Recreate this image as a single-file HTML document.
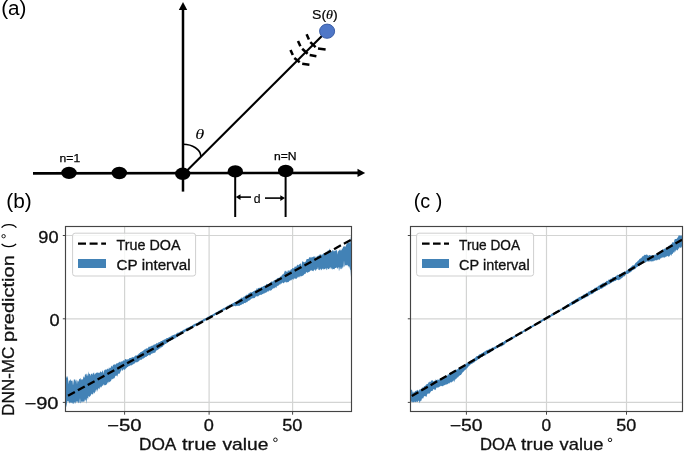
<!DOCTYPE html>
<html><head><meta charset="utf-8"><title>figure</title>
<style>html,body{margin:0;padding:0;background:#fff;}svg{display:block;} svg{will-change:transform;}</style>
</head><body>
<svg width="685" height="453" viewBox="0 0 685 453" font-family="Liberation Sans, sans-serif">
<rect width="685" height="453" fill="#fff"/>
<text x="1.2" y="14.6" font-family="Liberation Sans, sans-serif" font-size="20" fill="#000" text-anchor="start" textLength="25.3" lengthAdjust="spacingAndGlyphs" >(a)</text>
<line x1="33" y1="173.4" x2="359" y2="172.9" stroke="#000" stroke-width="2.6"/>
<polygon points="357.5,168.8 365.2,172.9 357.5,177.0" fill="#000"/>
<line x1="183" y1="191.6" x2="183" y2="9" stroke="#000" stroke-width="2.5"/>
<polygon points="178.8,10 183,2 187.2,10" fill="#000"/>
<line x1="235.2" y1="175" x2="235.2" y2="217" stroke="#000" stroke-width="2"/>
<line x1="285.6" y1="175" x2="285.6" y2="217" stroke="#000" stroke-width="2"/>
<line x1="238" y1="197.1" x2="251" y2="197.1" stroke="#000" stroke-width="1.6"/>
<polygon points="235.8,197.1 240.5,194.3 240.5,199.9" fill="#000"/>
<line x1="265" y1="198.1" x2="282" y2="198.1" stroke="#000" stroke-width="1.6"/>
<polygon points="285,198.1 280.3,195.3 280.3,200.9" fill="#000"/>
<text x="253.8" y="202.5" font-family="Liberation Sans, sans-serif" font-size="12.4" fill="#000" text-anchor="start" textLength="6.8" lengthAdjust="spacingAndGlyphs" stroke="#000" stroke-width="0.15" >d</text>
<line x1="183.6" y1="174.0" x2="327.9" y2="29.9" stroke="#000" stroke-width="2.05"/>
<path d="M 183 144.3 A 18 12 0 0 1 200.8 156" fill="none" stroke="#000" stroke-width="1.6"/>
<text x="195.2" y="139.3" font-family="Liberation Serif, sans-serif" font-size="14.8" fill="#000" text-anchor="start" textLength="9.0" lengthAdjust="spacingAndGlyphs" font-style="italic">θ</text>
<ellipse cx="69.0" cy="172.9" rx="7.7" ry="6.2" fill="#000"/>
<ellipse cx="119.3" cy="173.0" rx="7.7" ry="6.2" fill="#000"/>
<ellipse cx="182.7" cy="173.8" rx="7.7" ry="6.2" fill="#000"/>
<ellipse cx="235.3" cy="171.4" rx="7.7" ry="6.2" fill="#000"/>
<ellipse cx="285.7" cy="171.0" rx="7.7" ry="6.2" fill="#000"/>
<text x="59.6" y="162.0" font-family="Liberation Sans, sans-serif" font-size="11.2" fill="#000" text-anchor="start" textLength="20.6" lengthAdjust="spacingAndGlyphs" stroke="#000" stroke-width="0.25" >n=1</text>
<text x="274.0" y="160.2" font-family="Liberation Sans, sans-serif" font-size="11.2" fill="#000" text-anchor="start" textLength="22.6" lengthAdjust="spacingAndGlyphs" stroke="#000" stroke-width="0.25" >n=N</text>
<line x1="306.6" y1="34.2" x2="308.9" y2="39.5" stroke="#000" stroke-width="2.55"/>
<line x1="310.3" y1="42.1" x2="315.6" y2="47.1" stroke="#000" stroke-width="2.55"/>
<line x1="318.0" y1="48.5" x2="325.6" y2="49.4" stroke="#000" stroke-width="2.55"/>
<line x1="298.0" y1="41.0" x2="300.4" y2="46.3" stroke="#000" stroke-width="2.55"/>
<line x1="302.2" y1="48.7" x2="307.6" y2="53.7" stroke="#000" stroke-width="2.55"/>
<line x1="309.7" y1="55.0" x2="316.4" y2="56.2" stroke="#000" stroke-width="2.55"/>
<line x1="290.5" y1="50.0" x2="292.8" y2="55.0" stroke="#000" stroke-width="2.55"/>
<line x1="294.3" y1="57.9" x2="299.7" y2="62.3" stroke="#000" stroke-width="2.55"/>
<line x1="302.2" y1="63.8" x2="309.4" y2="64.7" stroke="#000" stroke-width="2.55"/>
<ellipse cx="327.1" cy="31.2" rx="7.5" ry="7.1" fill="#4F77C7" stroke="#3A5DA6" stroke-width="1.0"/>
<text x="312.0" y="18.8" font-family="Liberation Sans, sans-serif" font-size="13" fill="#000" text-anchor="start" textLength="25.8" lengthAdjust="spacingAndGlyphs" stroke="#000" stroke-width="0.2" >S(<tspan font-family="Liberation Serif, serif" font-style="italic">θ</tspan>)</text>
<text x="6.3" y="208.0" font-family="Liberation Sans, sans-serif" font-size="19.5" fill="#000" text-anchor="start" textLength="25.5" lengthAdjust="spacingAndGlyphs" >(b)</text>
<line x1="124.6" y1="226.6" x2="124.6" y2="411.4" stroke="#d3d4d3" stroke-width="1.2"/>
<line x1="209.1" y1="226.6" x2="209.1" y2="411.4" stroke="#d3d4d3" stroke-width="1.2"/>
<line x1="292.6" y1="226.6" x2="292.6" y2="411.4" stroke="#d3d4d3" stroke-width="1.2"/>
<line x1="66" y1="235.5" x2="351.4" y2="235.5" stroke="#d3d4d3" stroke-width="1.2"/>
<line x1="66" y1="318.8" x2="351.4" y2="318.8" stroke="#d3d4d3" stroke-width="1.2"/>
<line x1="66" y1="402.4" x2="351.4" y2="402.4" stroke="#d3d4d3" stroke-width="1.2"/>
<path d="M 66.0 375.8 L 66.5 378.2 L 67.0 376.1 L 67.5 376.7 L 68.0 378.5 L 68.5 384.2 L 69.0 380.2 L 69.5 381.0 L 70.0 380.0 L 70.5 379.0 L 71.0 381.2 L 71.5 380.5 L 72.0 380.7 L 72.5 380.4 L 73.0 385.5 L 73.5 381.7 L 74.0 379.0 L 74.5 380.1 L 75.0 379.1 L 75.5 381.8 L 76.0 379.3 L 76.5 380.4 L 77.0 384.2 L 77.5 379.9 L 78.0 381.4 L 78.5 381.6 L 79.0 379.7 L 79.5 378.7 L 80.0 379.1 L 80.5 377.7 L 81.0 380.6 L 81.5 379.1 L 82.0 379.5 L 82.5 379.5 L 83.0 378.9 L 83.5 375.9 L 84.0 377.5 L 84.5 377.5 L 85.0 374.2 L 85.5 374.7 L 86.0 373.4 L 86.5 374.1 L 87.0 376.4 L 87.5 373.6 L 88.0 376.5 L 88.5 371.2 L 89.0 374.1 L 89.5 373.7 L 90.0 373.8 L 90.5 376.1 L 91.0 373.9 L 91.5 373.9 L 92.0 373.0 L 92.5 375.2 L 93.0 373.0 L 93.5 373.6 L 94.0 371.9 L 94.5 374.8 L 95.0 374.3 L 95.5 373.6 L 96.0 372.7 L 96.5 372.8 L 97.0 372.8 L 97.5 372.7 L 98.0 372.0 L 98.5 373.0 L 99.0 373.1 L 99.5 372.8 L 100.0 372.3 L 100.5 370.9 L 101.0 372.3 L 101.5 372.6 L 102.0 371.8 L 102.5 371.0 L 103.0 370.0 L 103.5 374.1 L 104.0 371.3 L 104.5 369.7 L 105.0 370.1 L 105.5 369.0 L 106.0 370.3 L 106.5 369.5 L 107.0 369.1 L 107.5 368.4 L 108.0 368.9 L 108.5 369.6 L 109.0 367.1 L 109.5 368.4 L 110.0 367.9 L 110.5 367.9 L 111.0 366.5 L 111.5 365.5 L 112.0 366.7 L 112.5 366.5 L 113.0 364.9 L 113.5 364.8 L 114.0 364.6 L 114.5 364.3 L 115.0 364.8 L 115.5 364.6 L 116.0 364.3 L 116.5 363.5 L 117.0 362.8 L 117.5 363.5 L 118.0 363.3 L 118.5 362.6 L 119.0 362.5 L 119.5 361.5 L 120.0 362.2 L 120.5 362.5 L 121.0 360.9 L 121.5 361.8 L 122.0 361.4 L 122.5 361.5 L 123.0 360.4 L 123.5 360.3 L 124.0 360.7 L 124.5 360.8 L 125.0 358.9 L 125.5 359.3 L 126.0 359.0 L 126.5 359.9 L 127.0 359.1 L 127.5 359.4 L 128.0 359.5 L 128.5 359.3 L 129.0 358.7 L 129.5 357.9 L 130.0 358.1 L 130.5 358.1 L 131.0 357.7 L 131.5 357.6 L 132.0 357.8 L 132.5 356.7 L 133.0 357.3 L 133.5 357.3 L 134.0 357.1 L 134.5 356.5 L 135.0 355.8 L 135.5 355.5 L 136.0 355.6 L 136.5 355.6 L 137.0 355.6 L 137.5 354.9 L 138.0 354.6 L 138.5 354.3 L 139.0 353.3 L 139.5 353.2 L 140.0 353.0 L 140.5 352.1 L 141.0 351.9 L 141.5 351.8 L 142.0 351.4 L 142.5 351.2 L 143.0 350.7 L 143.5 350.4 L 144.0 349.7 L 144.5 349.8 L 145.0 349.1 L 145.5 349.4 L 146.0 348.2 L 146.5 348.2 L 147.0 349.0 L 147.5 348.3 L 148.0 348.1 L 148.5 346.9 L 149.0 346.6 L 149.5 346.8 L 150.0 346.9 L 150.5 346.3 L 151.0 346.3 L 151.5 345.6 L 152.0 346.2 L 152.5 345.3 L 153.0 345.8 L 153.5 344.8 L 154.0 344.6 L 154.5 344.5 L 155.0 344.6 L 155.5 344.2 L 156.0 343.8 L 156.5 343.2 L 157.0 342.8 L 157.5 343.7 L 158.0 342.7 L 158.5 342.2 L 159.0 342.5 L 159.5 342.1 L 160.0 342.0 L 160.5 341.6 L 161.0 341.0 L 161.5 341.1 L 162.0 340.9 L 162.5 340.3 L 163.0 340.5 L 163.5 340.1 L 164.0 339.5 L 164.5 339.8 L 165.0 338.8 L 165.5 339.5 L 166.0 338.5 L 166.5 338.3 L 167.0 338.1 L 167.5 337.9 L 168.0 337.9 L 168.5 337.6 L 169.0 337.2 L 169.5 337.1 L 170.0 336.8 L 170.5 336.5 L 171.0 336.4 L 171.5 335.7 L 172.0 335.6 L 172.5 335.5 L 173.0 335.1 L 173.5 335.1 L 174.0 334.8 L 174.5 334.5 L 175.0 334.4 L 175.5 334.4 L 176.0 334.0 L 176.5 333.4 L 177.0 333.0 L 177.5 332.8 L 178.0 332.6 L 178.5 332.8 L 179.0 332.5 L 179.5 332.2 L 180.0 331.7 L 180.5 331.5 L 181.0 331.3 L 181.5 331.0 L 182.0 331.0 L 182.5 330.5 L 183.0 330.2 L 183.5 329.8 L 184.0 329.7 L 184.5 329.6 L 185.0 329.1 L 185.5 328.8 L 186.0 328.7 L 186.5 328.0 L 187.0 327.8 L 187.5 327.7 L 188.0 327.8 L 188.5 327.3 L 189.0 327.2 L 189.5 326.9 L 190.0 326.5 L 190.5 325.9 L 191.0 326.2 L 191.5 325.9 L 192.0 325.5 L 192.5 325.3 L 193.0 324.8 L 193.5 324.4 L 194.0 324.3 L 194.5 324.1 L 195.0 323.5 L 195.5 323.8 L 196.0 323.3 L 196.5 322.9 L 197.0 323.0 L 197.5 322.7 L 198.0 322.4 L 198.5 322.0 L 199.0 321.5 L 199.5 321.4 L 200.0 321.0 L 200.5 320.8 L 201.0 320.7 L 201.5 320.2 L 202.0 320.0 L 202.5 319.9 L 203.0 319.4 L 203.5 318.9 L 204.0 318.7 L 204.5 318.7 L 205.0 318.2 L 205.5 318.4 L 206.0 318.1 L 206.5 317.5 L 207.0 317.4 L 207.5 317.0 L 208.0 316.4 L 208.5 316.7 L 209.0 316.3 L 209.5 315.7 L 210.0 315.9 L 210.5 315.1 L 211.0 315.1 L 211.5 315.0 L 212.0 314.7 L 212.5 314.4 L 213.0 314.0 L 213.5 313.9 L 214.0 313.5 L 214.5 313.2 L 215.0 312.9 L 215.5 312.5 L 216.0 312.6 L 216.5 311.9 L 217.0 311.9 L 217.5 311.7 L 218.0 311.3 L 218.5 311.0 L 219.0 310.5 L 219.5 310.4 L 220.0 310.4 L 220.5 309.7 L 221.0 309.8 L 221.5 309.4 L 222.0 309.0 L 222.5 308.7 L 223.0 308.4 L 223.5 308.0 L 224.0 307.8 L 224.5 307.9 L 225.0 307.3 L 225.5 307.4 L 226.0 306.9 L 226.5 306.4 L 227.0 306.1 L 227.5 305.8 L 228.0 305.7 L 228.5 305.6 L 229.0 305.3 L 229.5 304.8 L 230.0 304.6 L 230.5 304.8 L 231.0 304.4 L 231.5 304.0 L 232.0 303.6 L 232.5 303.5 L 233.0 303.0 L 233.5 303.0 L 234.0 302.5 L 234.5 301.9 L 235.0 302.2 L 235.5 301.9 L 236.0 301.4 L 236.5 301.4 L 237.0 300.7 L 237.5 300.8 L 238.0 300.3 L 238.5 300.2 L 239.0 299.3 L 239.5 299.3 L 240.0 298.9 L 240.5 298.2 L 241.0 298.7 L 241.5 297.0 L 242.0 298.3 L 242.5 297.4 L 243.0 297.7 L 243.5 296.7 L 244.0 296.4 L 244.5 296.6 L 245.0 296.3 L 245.5 295.5 L 246.0 295.2 L 246.5 294.5 L 247.0 295.1 L 247.5 295.0 L 248.0 294.1 L 248.5 293.5 L 249.0 293.4 L 249.5 292.9 L 250.0 292.4 L 250.5 292.3 L 251.0 292.6 L 251.5 292.4 L 252.0 291.9 L 252.5 292.1 L 253.0 291.6 L 253.5 291.0 L 254.0 291.4 L 254.5 291.1 L 255.0 289.7 L 255.5 290.6 L 256.0 290.3 L 256.5 289.1 L 257.0 287.8 L 257.5 289.7 L 258.0 287.9 L 258.5 288.0 L 259.0 287.7 L 259.5 288.1 L 260.0 287.5 L 260.5 288.2 L 261.0 286.8 L 261.5 287.0 L 262.0 286.8 L 262.5 287.1 L 263.0 286.3 L 263.5 286.0 L 264.0 285.9 L 264.5 285.3 L 265.0 285.9 L 265.5 285.7 L 266.0 284.8 L 266.5 283.9 L 267.0 283.7 L 267.5 284.6 L 268.0 284.5 L 268.5 284.2 L 269.0 283.6 L 269.5 283.2 L 270.0 282.9 L 270.5 282.2 L 271.0 282.5 L 271.5 281.6 L 272.0 281.1 L 272.5 281.7 L 273.0 281.7 L 273.5 281.0 L 274.0 279.9 L 274.5 280.3 L 275.0 280.7 L 275.5 279.2 L 276.0 280.0 L 276.5 279.4 L 277.0 278.3 L 277.5 278.2 L 278.0 277.8 L 278.5 277.9 L 279.0 277.8 L 279.5 277.9 L 280.0 276.6 L 280.5 276.5 L 281.0 276.7 L 281.5 275.6 L 282.0 275.4 L 282.5 274.3 L 283.0 274.4 L 283.5 274.0 L 284.0 273.2 L 284.5 271.7 L 285.0 270.6 L 285.5 271.4 L 286.0 270.5 L 286.5 271.8 L 287.0 271.9 L 287.5 271.7 L 288.0 269.8 L 288.5 270.5 L 289.0 271.5 L 289.5 270.1 L 290.0 271.1 L 290.5 270.0 L 291.0 269.0 L 291.5 269.5 L 292.0 268.7 L 292.5 267.9 L 293.0 268.0 L 293.5 268.2 L 294.0 268.4 L 294.5 266.9 L 295.0 266.2 L 295.5 266.9 L 296.0 266.3 L 296.5 266.8 L 297.0 265.0 L 297.5 264.5 L 298.0 265.4 L 298.5 265.3 L 299.0 264.5 L 299.5 264.3 L 300.0 264.1 L 300.5 263.4 L 301.0 263.3 L 301.5 267.1 L 302.0 262.6 L 302.5 260.9 L 303.0 261.7 L 303.5 261.8 L 304.0 262.4 L 304.5 262.2 L 305.0 262.1 L 305.5 261.8 L 306.0 260.9 L 306.5 259.2 L 307.0 258.9 L 307.5 259.1 L 308.0 259.1 L 308.5 258.9 L 309.0 257.9 L 309.5 257.2 L 310.0 257.0 L 310.5 258.1 L 311.0 256.6 L 311.5 258.0 L 312.0 256.8 L 312.5 257.3 L 313.0 257.3 L 313.5 256.5 L 314.0 256.4 L 314.5 256.3 L 315.0 257.8 L 315.5 255.9 L 316.0 260.2 L 316.5 257.0 L 317.0 255.9 L 317.5 256.3 L 318.0 255.4 L 318.5 255.4 L 319.0 256.0 L 319.5 254.6 L 320.0 254.6 L 320.5 253.9 L 321.0 255.7 L 321.5 254.8 L 322.0 254.2 L 322.5 254.8 L 323.0 254.1 L 323.5 253.8 L 324.0 252.7 L 324.5 254.3 L 325.0 252.8 L 325.5 253.1 L 326.0 251.9 L 326.5 251.6 L 327.0 253.4 L 327.5 252.0 L 328.0 249.8 L 328.5 250.5 L 329.0 251.2 L 329.5 248.2 L 330.0 250.1 L 330.5 250.2 L 331.0 251.9 L 331.5 251.5 L 332.0 251.6 L 332.5 249.9 L 333.0 250.0 L 333.5 250.8 L 334.0 251.8 L 334.5 250.6 L 335.0 251.3 L 335.5 249.9 L 336.0 250.9 L 336.5 249.6 L 337.0 250.8 L 337.5 254.6 L 338.0 251.1 L 338.5 251.6 L 339.0 250.1 L 339.5 250.5 L 340.0 248.8 L 340.5 250.8 L 341.0 250.0 L 341.5 250.6 L 342.0 248.3 L 342.5 248.9 L 343.0 247.3 L 343.5 246.7 L 344.0 245.7 L 344.5 246.3 L 345.0 247.2 L 345.5 246.6 L 346.0 245.4 L 346.5 244.0 L 347.0 244.2 L 347.5 241.1 L 348.0 241.9 L 348.5 242.8 L 349.0 242.6 L 349.5 241.5 L 350.0 243.9 L 350.5 240.1 L 351.0 236.0 L 351.0 277.2 L 350.5 270.0 L 350.0 269.5 L 349.5 265.9 L 349.0 268.0 L 348.5 265.7 L 348.0 266.6 L 347.5 265.1 L 347.0 264.8 L 346.5 265.4 L 346.0 265.3 L 345.5 265.0 L 345.0 265.9 L 344.5 267.0 L 344.0 260.5 L 343.5 267.7 L 343.0 266.1 L 342.5 268.8 L 342.0 267.1 L 341.5 269.0 L 341.0 269.3 L 340.5 269.0 L 340.0 266.7 L 339.5 269.2 L 339.0 271.6 L 338.5 266.8 L 338.0 268.0 L 337.5 268.9 L 337.0 267.5 L 336.5 267.6 L 336.0 268.0 L 335.5 267.9 L 335.0 268.1 L 334.5 269.3 L 334.0 269.2 L 333.5 269.1 L 333.0 268.9 L 332.5 269.7 L 332.0 268.0 L 331.5 269.6 L 331.0 267.2 L 330.5 267.5 L 330.0 269.6 L 329.5 267.6 L 329.0 269.0 L 328.5 269.3 L 328.0 268.7 L 327.5 267.8 L 327.0 270.2 L 326.5 269.8 L 326.0 267.8 L 325.5 268.8 L 325.0 269.3 L 324.5 269.1 L 324.0 269.5 L 323.5 269.4 L 323.0 268.3 L 322.5 269.0 L 322.0 269.3 L 321.5 270.5 L 321.0 269.3 L 320.5 268.6 L 320.0 270.4 L 319.5 269.8 L 319.0 269.5 L 318.5 270.3 L 318.0 267.1 L 317.5 269.1 L 317.0 269.1 L 316.5 269.3 L 316.0 270.6 L 315.5 271.0 L 315.0 269.3 L 314.5 270.0 L 314.0 269.6 L 313.5 271.5 L 313.0 270.8 L 312.5 271.1 L 312.0 270.6 L 311.5 270.2 L 311.0 270.7 L 310.5 270.5 L 310.0 270.8 L 309.5 272.0 L 309.0 271.7 L 308.5 272.3 L 308.0 272.2 L 307.5 272.9 L 307.0 272.6 L 306.5 272.0 L 306.0 272.6 L 305.5 273.9 L 305.0 273.7 L 304.5 273.9 L 304.0 274.5 L 303.5 275.5 L 303.0 275.3 L 302.5 276.0 L 302.0 275.9 L 301.5 276.5 L 301.0 276.1 L 300.5 275.8 L 300.0 277.7 L 299.5 275.9 L 299.0 277.8 L 298.5 276.9 L 298.0 276.6 L 297.5 277.7 L 297.0 278.0 L 296.5 279.1 L 296.0 278.4 L 295.5 278.7 L 295.0 278.7 L 294.5 278.6 L 294.0 278.3 L 293.5 279.4 L 293.0 280.1 L 292.5 279.0 L 292.0 279.1 L 291.5 280.5 L 291.0 279.9 L 290.5 280.3 L 290.0 280.9 L 289.5 280.5 L 289.0 281.5 L 288.5 281.9 L 288.0 282.2 L 287.5 282.2 L 287.0 282.1 L 286.5 282.5 L 286.0 282.6 L 285.5 281.5 L 285.0 282.4 L 284.5 281.9 L 284.0 283.2 L 283.5 283.3 L 283.0 283.0 L 282.5 282.6 L 282.0 282.8 L 281.5 283.9 L 281.0 283.2 L 280.5 284.1 L 280.0 285.1 L 279.5 284.1 L 279.0 285.3 L 278.5 285.3 L 278.0 286.2 L 277.5 286.0 L 277.0 285.6 L 276.5 287.8 L 276.0 287.7 L 275.5 287.3 L 275.0 287.3 L 274.5 288.4 L 274.0 288.0 L 273.5 288.3 L 273.0 288.9 L 272.5 288.6 L 272.0 289.8 L 271.5 290.5 L 271.0 289.8 L 270.5 291.0 L 270.0 290.6 L 269.5 290.6 L 269.0 290.6 L 268.5 291.4 L 268.0 291.7 L 267.5 291.3 L 267.0 291.7 L 266.5 292.5 L 266.0 292.6 L 265.5 292.9 L 265.0 292.5 L 264.5 293.5 L 264.0 293.4 L 263.5 293.5 L 263.0 294.0 L 262.5 294.1 L 262.0 294.5 L 261.5 294.7 L 261.0 294.9 L 260.5 294.8 L 260.0 294.7 L 259.5 295.2 L 259.0 295.6 L 258.5 296.1 L 258.0 296.6 L 257.5 296.5 L 257.0 296.1 L 256.5 296.2 L 256.0 296.8 L 255.5 296.5 L 255.0 297.7 L 254.5 298.0 L 254.0 298.2 L 253.5 298.3 L 253.0 297.9 L 252.5 298.2 L 252.0 298.8 L 251.5 298.6 L 251.0 299.3 L 250.5 299.4 L 250.0 300.1 L 249.5 300.4 L 249.0 300.6 L 248.5 301.0 L 248.0 300.7 L 247.5 302.1 L 247.0 302.3 L 246.5 302.3 L 246.0 302.3 L 245.5 303.2 L 245.0 303.1 L 244.5 303.0 L 244.0 303.1 L 243.5 304.0 L 243.0 304.2 L 242.5 303.7 L 242.0 304.4 L 241.5 304.8 L 241.0 304.8 L 240.5 305.3 L 240.0 305.0 L 239.5 305.9 L 239.0 305.9 L 238.5 305.8 L 238.0 305.7 L 237.5 305.9 L 237.0 305.6 L 236.5 306.2 L 236.0 305.7 L 235.5 306.5 L 235.0 305.9 L 234.5 305.7 L 234.0 306.3 L 233.5 306.3 L 233.0 306.2 L 232.5 306.3 L 232.0 306.3 L 231.5 306.6 L 231.0 306.7 L 230.5 306.9 L 230.0 307.2 L 229.5 307.3 L 229.0 307.4 L 228.5 307.7 L 228.0 308.3 L 227.5 308.7 L 227.0 309.0 L 226.5 309.1 L 226.0 309.2 L 225.5 309.6 L 225.0 309.8 L 224.5 310.2 L 224.0 310.2 L 223.5 310.4 L 223.0 310.9 L 222.5 311.1 L 222.0 311.3 L 221.5 311.9 L 221.0 312.2 L 220.5 312.4 L 220.0 312.5 L 219.5 312.7 L 219.0 313.1 L 218.5 313.4 L 218.0 313.7 L 217.5 313.9 L 217.0 314.6 L 216.5 314.5 L 216.0 314.7 L 215.5 314.8 L 215.0 315.6 L 214.5 315.7 L 214.0 315.8 L 213.5 315.9 L 213.0 316.3 L 212.5 316.8 L 212.0 317.1 L 211.5 317.5 L 211.0 317.5 L 210.5 317.9 L 210.0 318.4 L 209.5 318.5 L 209.0 318.5 L 208.5 319.2 L 208.0 319.4 L 207.5 319.4 L 207.0 320.0 L 206.5 320.1 L 206.0 320.0 L 205.5 320.8 L 205.0 320.6 L 204.5 321.3 L 204.0 321.5 L 203.5 321.4 L 203.0 321.7 L 202.5 322.0 L 202.0 322.7 L 201.5 322.8 L 201.0 322.8 L 200.5 323.5 L 200.0 323.5 L 199.5 324.0 L 199.0 324.4 L 198.5 324.1 L 198.0 324.4 L 197.5 324.8 L 197.0 324.9 L 196.5 325.6 L 196.0 325.7 L 195.5 325.8 L 195.0 326.4 L 194.5 326.6 L 194.0 327.0 L 193.5 327.4 L 193.0 327.3 L 192.5 327.4 L 192.0 328.3 L 191.5 328.2 L 191.0 328.4 L 190.5 329.0 L 190.0 329.0 L 189.5 329.2 L 189.0 329.5 L 188.5 330.2 L 188.0 330.5 L 187.5 330.4 L 187.0 330.8 L 186.5 330.8 L 186.0 331.1 L 185.5 331.4 L 185.0 331.7 L 184.5 332.2 L 184.0 332.5 L 183.5 333.0 L 183.0 333.4 L 182.5 333.3 L 182.0 334.0 L 181.5 333.6 L 181.0 334.5 L 180.5 334.4 L 180.0 334.5 L 179.5 335.1 L 179.0 335.3 L 178.5 335.7 L 178.0 336.5 L 177.5 336.9 L 177.0 337.3 L 176.5 337.4 L 176.0 337.2 L 175.5 338.2 L 175.0 338.4 L 174.5 338.8 L 174.0 338.6 L 173.5 339.2 L 173.0 339.2 L 172.5 339.7 L 172.0 339.7 L 171.5 340.1 L 171.0 340.4 L 170.5 340.9 L 170.0 340.8 L 169.5 341.1 L 169.0 341.4 L 168.5 341.9 L 168.0 342.2 L 167.5 342.6 L 167.0 343.2 L 166.5 343.2 L 166.0 343.7 L 165.5 344.1 L 165.0 343.9 L 164.5 344.4 L 164.0 345.5 L 163.5 345.1 L 163.0 346.5 L 162.5 346.5 L 162.0 347.2 L 161.5 347.4 L 161.0 347.1 L 160.5 347.8 L 160.0 348.8 L 159.5 348.3 L 159.0 348.8 L 158.5 349.4 L 158.0 349.6 L 157.5 350.2 L 157.0 350.1 L 156.5 350.5 L 156.0 351.0 L 155.5 352.0 L 155.0 352.9 L 154.5 352.6 L 154.0 352.9 L 153.5 353.3 L 153.0 352.5 L 152.5 353.6 L 152.0 354.1 L 151.5 353.6 L 151.0 354.1 L 150.5 355.1 L 150.0 355.4 L 149.5 355.3 L 149.0 354.9 L 148.5 355.0 L 148.0 355.7 L 147.5 355.9 L 147.0 355.9 L 146.5 357.0 L 146.0 356.8 L 145.5 357.0 L 145.0 357.2 L 144.5 358.1 L 144.0 357.7 L 143.5 358.8 L 143.0 358.5 L 142.5 358.5 L 142.0 359.5 L 141.5 359.4 L 141.0 360.2 L 140.5 359.8 L 140.0 359.6 L 139.5 360.4 L 139.0 361.2 L 138.5 361.6 L 138.0 361.5 L 137.5 362.2 L 137.0 362.3 L 136.5 362.4 L 136.0 362.0 L 135.5 362.3 L 135.0 363.4 L 134.5 363.4 L 134.0 363.6 L 133.5 364.0 L 133.0 364.4 L 132.5 364.4 L 132.0 365.2 L 131.5 365.4 L 131.0 364.9 L 130.5 365.4 L 130.0 365.4 L 129.5 366.3 L 129.0 365.7 L 128.5 366.2 L 128.0 367.1 L 127.5 367.1 L 127.0 367.2 L 126.5 368.3 L 126.0 367.9 L 125.5 369.0 L 125.0 369.4 L 124.5 369.7 L 124.0 369.7 L 123.5 369.1 L 123.0 370.1 L 122.5 370.5 L 122.0 371.0 L 121.5 368.5 L 121.0 371.5 L 120.5 371.2 L 120.0 373.2 L 119.5 373.8 L 119.0 373.5 L 118.5 373.8 L 118.0 374.0 L 117.5 376.9 L 117.0 375.0 L 116.5 376.2 L 116.0 375.6 L 115.5 375.9 L 115.0 376.6 L 114.5 378.4 L 114.0 378.0 L 113.5 378.5 L 113.0 379.3 L 112.5 379.3 L 112.0 378.4 L 111.5 379.8 L 111.0 380.7 L 110.5 381.4 L 110.0 381.4 L 109.5 382.4 L 109.0 381.6 L 108.5 381.9 L 108.0 383.8 L 107.5 381.9 L 107.0 384.0 L 106.5 384.4 L 106.0 385.0 L 105.5 385.0 L 105.0 385.4 L 104.5 385.3 L 104.0 384.5 L 103.5 384.3 L 103.0 386.0 L 102.5 385.3 L 102.0 386.2 L 101.5 387.8 L 101.0 385.9 L 100.5 387.7 L 100.0 386.9 L 99.5 388.7 L 99.0 389.5 L 98.5 387.7 L 98.0 389.1 L 97.5 390.2 L 97.0 392.0 L 96.5 389.5 L 96.0 389.6 L 95.5 391.5 L 95.0 392.2 L 94.5 392.9 L 94.0 393.7 L 93.5 391.8 L 93.0 394.7 L 92.5 393.9 L 92.0 394.6 L 91.5 393.6 L 91.0 394.9 L 90.5 395.7 L 90.0 396.6 L 89.5 397.3 L 89.0 395.9 L 88.5 396.3 L 88.0 399.9 L 87.5 398.0 L 87.0 397.7 L 86.5 404.0 L 86.0 399.5 L 85.5 401.1 L 85.0 399.1 L 84.5 401.4 L 84.0 401.5 L 83.5 402.1 L 83.0 400.9 L 82.5 402.6 L 82.0 401.1 L 81.5 401.7 L 81.0 402.8 L 80.5 403.4 L 80.0 398.0 L 79.5 401.9 L 79.0 403.2 L 78.5 403.0 L 78.0 401.2 L 77.5 401.5 L 77.0 402.7 L 76.5 401.4 L 76.0 401.2 L 75.5 403.9 L 75.0 401.9 L 74.5 402.3 L 74.0 404.1 L 73.5 403.7 L 73.0 402.1 L 72.5 404.1 L 72.0 402.5 L 71.5 402.6 L 71.0 403.4 L 70.5 401.9 L 70.0 403.1 L 69.5 403.5 L 69.0 401.6 L 68.5 401.7 L 68.0 401.0 L 67.5 401.0 L 67.0 402.5 L 66.5 407.6 L 66.0 404.0 Z" fill="#4282B6" stroke="none"/>
<line x1="66" y1="396.90" x2="351.4" y2="239.56" stroke="#000" stroke-width="2.3" stroke-dasharray="7.84 3.41" stroke-dashoffset="8.95"/>
<rect x="65.5" y="226.5" width="286.0" height="185.0" fill="none" stroke="#444444" stroke-width="1.15"/>
<line x1="62.8" y1="235.5" x2="65.5" y2="235.5" stroke="#444444" stroke-width="1"/>
<line x1="62.8" y1="318.8" x2="65.5" y2="318.8" stroke="#444444" stroke-width="1"/>
<line x1="62.8" y1="402.4" x2="65.5" y2="402.4" stroke="#444444" stroke-width="1"/>
<line x1="124.6" y1="411.5" x2="124.6" y2="414.7" stroke="#444444" stroke-width="1"/>
<line x1="209.1" y1="411.5" x2="209.1" y2="414.7" stroke="#444444" stroke-width="1"/>
<line x1="292.6" y1="411.5" x2="292.6" y2="414.7" stroke="#444444" stroke-width="1"/>
<text x="38.3" y="242.9" font-family="Liberation Sans, sans-serif" font-size="16" fill="#111" text-anchor="start" textLength="20.2" lengthAdjust="spacingAndGlyphs" stroke="#111" stroke-width="0.3" >90</text>
<text x="49.6" y="325.9" font-family="Liberation Sans, sans-serif" font-size="16" fill="#111" text-anchor="start" textLength="10.1" lengthAdjust="spacingAndGlyphs" stroke="#111" stroke-width="0.3" >0</text>
<text x="24.5" y="409.4" font-family="Liberation Sans, sans-serif" font-size="16" fill="#111" text-anchor="start" textLength="34.0" lengthAdjust="spacingAndGlyphs" stroke="#111" stroke-width="0.3" >−90</text>
<text x="107.0" y="431.1" font-family="Liberation Sans, sans-serif" font-size="16" fill="#111" text-anchor="start" textLength="34.5" lengthAdjust="spacingAndGlyphs" stroke="#111" stroke-width="0.3" >−50</text>
<text x="203.8" y="431.1" font-family="Liberation Sans, sans-serif" font-size="16" fill="#111" text-anchor="start" textLength="10.1" lengthAdjust="spacingAndGlyphs" stroke="#111" stroke-width="0.3" >0</text>
<text x="282.2" y="431.1" font-family="Liberation Sans, sans-serif" font-size="16" fill="#111" text-anchor="start" textLength="20.2" lengthAdjust="spacingAndGlyphs" stroke="#111" stroke-width="0.3" >50</text>
<text x="138.9" y="450.3" font-family="Liberation Sans, sans-serif" font-size="17" fill="#111" text-anchor="start" textLength="37.5" lengthAdjust="spacingAndGlyphs" stroke="#111" stroke-width="0.3" >DOA</text>
<text x="182.0" y="450.3" font-family="Liberation Sans, sans-serif" font-size="17" fill="#111" text-anchor="start" textLength="34.4" lengthAdjust="spacingAndGlyphs" stroke="#111" stroke-width="0.3" >true</text>
<text x="222.4" y="450.3" font-family="Liberation Sans, sans-serif" font-size="17" fill="#111" text-anchor="start" textLength="46.0" lengthAdjust="spacingAndGlyphs" stroke="#111" stroke-width="0.3" >value</text>
<circle cx="275.4" cy="439.8" r="1.8" fill="none" stroke="#111" stroke-width="0.95"/>
<g transform="translate(14.3,416.0) rotate(-90)">
<text x="0" y="0" font-family="Liberation Sans, sans-serif" font-size="17" fill="#111" text-anchor="start" textLength="69.5" lengthAdjust="spacingAndGlyphs" stroke="#111" stroke-width="0.3" >DNN-MC</text>
<text x="74.0" y="0" font-family="Liberation Sans, sans-serif" font-size="17" fill="#111" text-anchor="start" textLength="86.8" lengthAdjust="spacingAndGlyphs" stroke="#111" stroke-width="0.3" >prediction</text>
</g>
<path d="M 1.6 243.9 C 4.5 247.4, 13.2 247.4, 16.1 243.9" fill="none" stroke="#000" stroke-width="1.3"/>
<path d="M 1.6 227.6 C 4.5 223.5, 13.5 223.5, 16.4 227.6" fill="none" stroke="#000" stroke-width="1.3"/>
<circle cx="3.6" cy="236.2" r="1.7" fill="none" stroke="#111" stroke-width="0.95"/>
<rect x="72.6" y="233.2" width="123" height="42.8" rx="2.5" fill="#fff" fill-opacity="0.8" stroke="#cfcfcf" stroke-width="1"/>
<line x1="78" y1="243.6" x2="106" y2="243.6" stroke="#000" stroke-width="2.4" stroke-dasharray="8 3.6"/>
<rect x="78" y="259" width="28" height="9" fill="#4282B6"/>
<text x="116.6" y="249.6" font-family="Liberation Sans, sans-serif" font-size="14" fill="#111" text-anchor="start" textLength="64" lengthAdjust="spacingAndGlyphs" stroke="#111" stroke-width="0.3" >True DOA</text>
<text x="116.6" y="269.6" font-family="Liberation Sans, sans-serif" font-size="14" fill="#111" text-anchor="start" textLength="74" lengthAdjust="spacingAndGlyphs" stroke="#111" stroke-width="0.3" >CP interval</text>
<text x="413.8" y="208.0" font-family="Liberation Sans, sans-serif" font-size="19.5" fill="#000" text-anchor="start" textLength="28.5" lengthAdjust="spacingAndGlyphs" >(c )</text>
<line x1="466.4" y1="226.6" x2="466.4" y2="411.4" stroke="#d3d4d3" stroke-width="1.2"/>
<line x1="546.5" y1="226.6" x2="546.5" y2="411.4" stroke="#d3d4d3" stroke-width="1.2"/>
<line x1="626.5" y1="226.6" x2="626.5" y2="411.4" stroke="#d3d4d3" stroke-width="1.2"/>
<line x1="410.4" y1="235.5" x2="682.4" y2="235.5" stroke="#d3d4d3" stroke-width="1.2"/>
<line x1="410.4" y1="318.8" x2="682.4" y2="318.8" stroke="#d3d4d3" stroke-width="1.2"/>
<line x1="410.4" y1="402.4" x2="682.4" y2="402.4" stroke="#d3d4d3" stroke-width="1.2"/>
<path d="M 410.4 390.6 L 410.9 389.6 L 411.4 390.0 L 411.9 389.4 L 412.4 391.5 L 412.9 392.9 L 413.4 392.8 L 413.9 391.3 L 414.4 392.4 L 414.9 391.5 L 415.4 391.0 L 415.9 390.8 L 416.4 391.1 L 416.9 390.0 L 417.4 389.8 L 417.9 390.4 L 418.4 390.6 L 418.9 390.9 L 419.4 389.2 L 419.9 389.4 L 420.4 389.4 L 420.9 389.5 L 421.4 388.7 L 421.9 387.8 L 422.4 387.1 L 422.9 388.6 L 423.4 387.6 L 423.9 386.4 L 424.4 386.0 L 424.9 386.1 L 425.4 385.8 L 425.9 384.7 L 426.4 384.5 L 426.9 384.1 L 427.4 384.0 L 427.9 383.8 L 428.4 382.7 L 428.9 381.9 L 429.4 381.6 L 429.9 382.4 L 430.4 381.4 L 430.9 381.8 L 431.4 380.3 L 431.9 380.5 L 432.4 380.1 L 432.9 381.0 L 433.4 381.4 L 433.9 381.1 L 434.4 381.1 L 434.9 380.6 L 435.4 380.5 L 435.9 378.9 L 436.4 380.6 L 436.9 380.1 L 437.4 379.5 L 437.9 379.7 L 438.4 379.9 L 438.9 379.3 L 439.4 379.6 L 439.9 378.9 L 440.4 378.3 L 440.9 378.2 L 441.4 378.0 L 441.9 378.5 L 442.4 377.1 L 442.9 377.3 L 443.4 377.7 L 443.9 376.5 L 444.4 376.4 L 444.9 376.0 L 445.4 375.8 L 445.9 375.5 L 446.4 376.0 L 446.9 375.9 L 447.4 375.7 L 447.9 374.1 L 448.4 374.5 L 448.9 374.5 L 449.4 373.4 L 449.9 372.9 L 450.4 372.8 L 450.9 372.2 L 451.4 372.7 L 451.9 373.2 L 452.4 372.2 L 452.9 371.7 L 453.4 372.2 L 453.9 370.4 L 454.4 370.2 L 454.9 370.7 L 455.4 370.8 L 455.9 369.4 L 456.4 369.5 L 456.9 370.1 L 457.4 369.0 L 457.9 369.3 L 458.4 368.1 L 458.9 367.8 L 459.4 367.1 L 459.9 367.8 L 460.4 367.5 L 460.9 367.7 L 461.4 366.4 L 461.9 367.0 L 462.4 366.4 L 462.9 366.1 L 463.4 365.3 L 463.9 365.7 L 464.4 365.2 L 464.9 364.5 L 465.4 363.9 L 465.9 363.5 L 466.4 363.7 L 466.9 363.1 L 467.4 362.4 L 467.9 362.3 L 468.4 362.1 L 468.9 362.1 L 469.4 361.5 L 469.9 361.5 L 470.4 361.0 L 470.9 360.3 L 471.4 360.1 L 471.9 359.9 L 472.4 359.6 L 472.9 359.4 L 473.4 358.5 L 473.9 358.9 L 474.4 357.9 L 474.9 358.1 L 475.4 357.6 L 475.9 356.8 L 476.4 356.3 L 476.9 356.1 L 477.4 355.9 L 477.9 356.1 L 478.4 355.3 L 478.9 354.7 L 479.4 354.6 L 479.9 353.9 L 480.4 354.1 L 480.9 353.9 L 481.4 353.4 L 481.9 353.1 L 482.4 353.1 L 482.9 352.8 L 483.4 352.1 L 483.9 352.0 L 484.4 351.4 L 484.9 351.5 L 485.4 351.3 L 485.9 350.6 L 486.4 350.3 L 486.9 350.3 L 487.4 349.9 L 487.9 349.8 L 488.4 349.4 L 488.9 349.7 L 489.4 348.8 L 489.9 348.7 L 490.4 348.7 L 490.9 348.7 L 491.4 348.5 L 491.9 347.8 L 492.4 347.3 L 492.9 347.8 L 493.4 347.4 L 493.9 347.0 L 494.4 346.7 L 494.9 346.7 L 495.4 345.9 L 495.9 346.2 L 496.4 345.7 L 496.9 345.6 L 497.4 344.9 L 497.9 345.1 L 498.4 344.8 L 498.9 344.3 L 499.4 343.7 L 499.9 343.3 L 500.4 343.4 L 500.9 343.2 L 501.4 342.8 L 501.9 342.4 L 502.4 341.9 L 502.9 341.9 L 503.4 342.0 L 503.9 341.4 L 504.4 341.1 L 504.9 341.1 L 505.4 340.4 L 505.9 340.1 L 506.4 339.7 L 506.9 340.1 L 507.4 339.6 L 507.9 339.2 L 508.4 338.9 L 508.9 338.5 L 509.4 338.7 L 509.9 338.3 L 510.4 337.8 L 510.9 337.9 L 511.4 337.4 L 511.9 336.9 L 512.4 336.7 L 512.9 336.4 L 513.4 336.2 L 513.9 335.9 L 514.4 335.8 L 514.9 335.3 L 515.4 335.2 L 515.9 335.0 L 516.4 334.5 L 516.9 334.1 L 517.4 334.2 L 517.9 333.7 L 518.4 333.4 L 518.9 333.2 L 519.4 332.5 L 519.9 332.5 L 520.4 332.2 L 520.9 332.1 L 521.4 331.8 L 521.9 331.3 L 522.4 331.2 L 522.9 330.8 L 523.4 330.4 L 523.9 330.1 L 524.4 330.1 L 524.9 329.6 L 525.4 329.1 L 525.9 328.9 L 526.4 328.8 L 526.9 328.7 L 527.4 327.9 L 527.9 327.6 L 528.4 327.7 L 528.9 327.2 L 529.4 327.2 L 529.9 326.9 L 530.4 326.5 L 530.9 326.2 L 531.4 325.7 L 531.9 325.6 L 532.4 325.2 L 532.9 325.0 L 533.4 324.5 L 533.9 324.7 L 534.4 324.0 L 534.9 323.9 L 535.4 323.6 L 535.9 323.4 L 536.4 322.9 L 536.9 322.6 L 537.4 322.3 L 537.9 321.9 L 538.4 322.0 L 538.9 321.6 L 539.4 321.0 L 539.9 321.0 L 540.4 320.4 L 540.9 320.1 L 541.4 320.0 L 541.9 319.4 L 542.4 319.3 L 542.9 319.1 L 543.4 319.1 L 543.9 318.8 L 544.4 318.3 L 544.9 317.7 L 545.4 317.7 L 545.9 317.6 L 546.4 317.3 L 546.9 316.5 L 547.4 316.4 L 547.9 316.0 L 548.4 315.9 L 548.9 315.4 L 549.4 315.5 L 549.9 314.9 L 550.4 314.9 L 550.9 314.6 L 551.4 314.0 L 551.9 313.6 L 552.4 313.4 L 552.9 313.3 L 553.4 313.3 L 553.9 312.8 L 554.4 312.7 L 554.9 312.0 L 555.4 311.6 L 555.9 311.7 L 556.4 311.5 L 556.9 310.8 L 557.4 311.0 L 557.9 310.4 L 558.4 309.9 L 558.9 310.1 L 559.4 309.8 L 559.9 309.2 L 560.4 308.7 L 560.9 308.7 L 561.4 308.4 L 561.9 308.3 L 562.4 307.9 L 562.9 307.3 L 563.4 306.9 L 563.9 306.7 L 564.4 306.7 L 564.9 306.4 L 565.4 305.7 L 565.9 305.8 L 566.4 304.9 L 566.9 304.8 L 567.4 304.8 L 567.9 304.1 L 568.4 304.2 L 568.9 303.9 L 569.4 303.1 L 569.9 303.1 L 570.4 302.7 L 570.9 302.4 L 571.4 302.0 L 571.9 301.5 L 572.4 301.3 L 572.9 301.2 L 573.4 300.6 L 573.9 300.4 L 574.4 299.9 L 574.9 300.2 L 575.4 299.3 L 575.9 299.0 L 576.4 298.9 L 576.9 298.6 L 577.4 298.7 L 577.9 297.7 L 578.4 297.7 L 578.9 297.2 L 579.4 297.0 L 579.9 296.7 L 580.4 296.9 L 580.9 296.2 L 581.4 296.3 L 581.9 296.1 L 582.4 295.7 L 582.9 295.2 L 583.4 294.9 L 583.9 294.1 L 584.4 294.6 L 584.9 293.9 L 585.4 293.9 L 585.9 293.3 L 586.4 292.7 L 586.9 293.0 L 587.4 292.8 L 587.9 292.5 L 588.4 291.8 L 588.9 291.2 L 589.4 291.5 L 589.9 290.9 L 590.4 290.8 L 590.9 290.6 L 591.4 290.1 L 591.9 289.8 L 592.4 289.9 L 592.9 289.4 L 593.4 289.3 L 593.9 288.9 L 594.4 288.1 L 594.9 287.8 L 595.4 287.8 L 595.9 287.8 L 596.4 287.4 L 596.9 286.7 L 597.4 286.9 L 597.9 286.2 L 598.4 285.5 L 598.9 286.1 L 599.4 285.5 L 599.9 284.7 L 600.4 284.7 L 600.9 284.4 L 601.4 283.9 L 601.9 283.7 L 602.4 283.3 L 602.9 283.3 L 603.4 283.5 L 603.9 282.3 L 604.4 282.9 L 604.9 282.4 L 605.4 282.3 L 605.9 281.7 L 606.4 280.9 L 606.9 280.7 L 607.4 281.0 L 607.9 280.8 L 608.4 279.7 L 608.9 279.4 L 609.4 279.9 L 609.9 278.9 L 610.4 279.1 L 610.9 278.6 L 611.4 278.7 L 611.9 278.3 L 612.4 277.4 L 612.9 277.3 L 613.4 277.0 L 613.9 277.2 L 614.4 277.1 L 614.9 276.9 L 615.4 276.4 L 615.9 276.1 L 616.4 275.4 L 616.9 275.7 L 617.4 274.8 L 617.9 274.7 L 618.4 275.1 L 618.9 274.8 L 619.4 273.9 L 619.9 273.9 L 620.4 273.7 L 620.9 273.7 L 621.4 273.2 L 621.9 272.7 L 622.4 272.4 L 622.9 272.5 L 623.4 272.0 L 623.9 272.3 L 624.4 271.3 L 624.9 271.7 L 625.4 271.4 L 625.9 271.2 L 626.4 270.4 L 626.9 270.4 L 627.4 270.0 L 627.9 269.7 L 628.4 268.8 L 628.9 269.1 L 629.4 267.9 L 629.9 267.9 L 630.4 267.3 L 630.9 267.4 L 631.4 266.5 L 631.9 265.9 L 632.4 265.5 L 632.9 265.2 L 633.4 265.6 L 633.9 264.9 L 634.4 264.7 L 634.9 264.3 L 635.4 263.0 L 635.9 262.7 L 636.4 262.1 L 636.9 262.4 L 637.4 261.2 L 637.9 260.7 L 638.4 260.6 L 638.9 259.9 L 639.4 259.1 L 639.9 258.7 L 640.4 258.6 L 640.9 258.3 L 641.4 257.9 L 641.9 257.0 L 642.4 256.0 L 642.9 256.8 L 643.4 255.9 L 643.9 255.6 L 644.4 254.4 L 644.9 255.3 L 645.4 254.8 L 645.9 254.9 L 646.4 254.5 L 646.9 254.6 L 647.4 254.7 L 647.9 255.4 L 648.4 255.9 L 648.9 255.1 L 649.4 255.0 L 649.9 255.2 L 650.4 255.6 L 650.9 255.2 L 651.4 255.6 L 651.9 255.2 L 652.4 255.4 L 652.9 255.0 L 653.4 255.3 L 653.9 255.1 L 654.4 255.3 L 654.9 254.3 L 655.4 254.8 L 655.9 254.5 L 656.4 254.0 L 656.9 253.5 L 657.4 253.2 L 657.9 252.9 L 658.4 252.7 L 658.9 252.6 L 659.4 251.6 L 659.9 252.5 L 660.4 251.2 L 660.9 251.0 L 661.4 250.1 L 661.9 250.5 L 662.4 250.2 L 662.9 249.1 L 663.4 249.2 L 663.9 249.4 L 664.4 248.2 L 664.9 249.0 L 665.4 248.5 L 665.9 248.2 L 666.4 247.5 L 666.9 247.2 L 667.4 246.9 L 667.9 246.9 L 668.4 245.4 L 668.9 246.8 L 669.4 246.3 L 669.9 244.8 L 670.4 244.5 L 670.9 244.9 L 671.4 244.0 L 671.9 243.5 L 672.4 241.9 L 672.9 242.6 L 673.4 241.8 L 673.9 243.2 L 674.4 239.7 L 674.9 239.3 L 675.4 238.9 L 675.9 239.0 L 676.4 238.8 L 676.9 238.9 L 677.4 237.6 L 677.9 237.5 L 678.4 236.0 L 678.9 235.2 L 679.4 235.5 L 679.9 235.6 L 680.4 235.2 L 680.9 236.3 L 681.4 235.0 L 681.9 236.3 L 682.4 236.2 L 682.4 247.4 L 681.9 246.2 L 681.4 247.8 L 680.9 247.3 L 680.4 248.2 L 679.9 247.1 L 679.4 247.6 L 678.9 249.2 L 678.4 248.0 L 677.9 250.2 L 677.4 250.2 L 676.9 250.6 L 676.4 249.6 L 675.9 249.9 L 675.4 252.1 L 674.9 250.6 L 674.4 252.6 L 673.9 252.4 L 673.4 252.3 L 672.9 253.4 L 672.4 254.0 L 671.9 253.9 L 671.4 255.8 L 670.9 255.4 L 670.4 254.3 L 669.9 255.6 L 669.4 256.3 L 668.9 256.8 L 668.4 256.4 L 667.9 256.3 L 667.4 255.7 L 666.9 256.5 L 666.4 256.5 L 665.9 256.4 L 665.4 257.2 L 664.9 257.0 L 664.4 257.9 L 663.9 257.3 L 663.4 257.5 L 662.9 257.5 L 662.4 257.2 L 661.9 258.4 L 661.4 257.6 L 660.9 258.1 L 660.4 258.7 L 659.9 258.8 L 659.4 260.2 L 658.9 259.5 L 658.4 259.6 L 657.9 259.4 L 657.4 260.0 L 656.9 260.5 L 656.4 260.2 L 655.9 260.0 L 655.4 260.2 L 654.9 260.9 L 654.4 260.6 L 653.9 260.5 L 653.4 261.6 L 652.9 261.1 L 652.4 261.3 L 651.9 262.3 L 651.4 260.9 L 650.9 261.2 L 650.4 261.4 L 649.9 260.8 L 649.4 261.7 L 648.9 261.5 L 648.4 261.5 L 647.9 261.6 L 647.4 261.2 L 646.9 261.8 L 646.4 261.6 L 645.9 262.0 L 645.4 262.9 L 644.9 261.5 L 644.4 261.8 L 643.9 262.9 L 643.4 262.6 L 642.9 262.8 L 642.4 263.6 L 641.9 263.6 L 641.4 264.3 L 640.9 264.7 L 640.4 265.0 L 639.9 264.8 L 639.4 266.2 L 638.9 265.9 L 638.4 266.0 L 637.9 266.4 L 637.4 266.9 L 636.9 267.0 L 636.4 267.5 L 635.9 268.3 L 635.4 268.8 L 634.9 268.6 L 634.4 269.6 L 633.9 269.6 L 633.4 269.8 L 632.9 270.4 L 632.4 270.1 L 631.9 271.1 L 631.4 271.5 L 630.9 271.9 L 630.4 272.3 L 629.9 272.4 L 629.4 272.8 L 628.9 273.2 L 628.4 273.5 L 627.9 273.7 L 627.4 274.1 L 626.9 274.1 L 626.4 274.0 L 625.9 274.5 L 625.4 275.1 L 624.9 276.3 L 624.4 276.2 L 623.9 276.3 L 623.4 276.6 L 622.9 277.4 L 622.4 277.6 L 621.9 277.9 L 621.4 278.5 L 620.9 278.4 L 620.4 279.2 L 619.9 279.8 L 619.4 279.5 L 618.9 280.4 L 618.4 279.9 L 617.9 279.7 L 617.4 280.1 L 616.9 280.1 L 616.4 280.1 L 615.9 281.1 L 615.4 280.7 L 614.9 281.2 L 614.4 280.9 L 613.9 281.3 L 613.4 282.0 L 612.9 281.8 L 612.4 282.0 L 611.9 282.5 L 611.4 283.1 L 610.9 282.8 L 610.4 283.5 L 609.9 283.8 L 609.4 284.3 L 608.9 284.3 L 608.4 284.3 L 607.9 284.3 L 607.4 285.3 L 606.9 285.6 L 606.4 285.2 L 605.9 286.0 L 605.4 286.6 L 604.9 286.5 L 604.4 286.9 L 603.9 287.0 L 603.4 287.4 L 602.9 287.9 L 602.4 288.2 L 601.9 288.4 L 601.4 288.7 L 600.9 289.0 L 600.4 288.8 L 599.9 289.2 L 599.4 290.0 L 598.9 289.9 L 598.4 290.1 L 597.9 290.2 L 597.4 290.9 L 596.9 290.9 L 596.4 291.1 L 595.9 291.3 L 595.4 291.9 L 594.9 291.8 L 594.4 292.3 L 593.9 292.8 L 593.4 293.2 L 592.9 293.7 L 592.4 293.9 L 591.9 293.8 L 591.4 294.6 L 590.9 294.1 L 590.4 294.6 L 589.9 295.3 L 589.4 295.1 L 588.9 295.3 L 588.4 296.3 L 587.9 296.6 L 587.4 296.4 L 586.9 297.0 L 586.4 296.8 L 585.9 297.5 L 585.4 297.6 L 584.9 297.5 L 584.4 298.5 L 583.9 298.0 L 583.4 298.6 L 582.9 299.0 L 582.4 299.1 L 581.9 299.3 L 581.4 300.1 L 580.9 300.1 L 580.4 300.3 L 579.9 300.7 L 579.4 300.8 L 578.9 301.1 L 578.4 301.4 L 577.9 302.1 L 577.4 301.8 L 576.9 302.5 L 576.4 302.2 L 575.9 302.8 L 575.4 302.9 L 574.9 303.7 L 574.4 304.1 L 573.9 303.8 L 573.4 304.3 L 572.9 304.7 L 572.4 304.7 L 571.9 304.9 L 571.4 305.3 L 570.9 305.4 L 570.4 305.7 L 569.9 306.3 L 569.4 306.5 L 568.9 306.8 L 568.4 306.6 L 567.9 307.2 L 567.4 307.3 L 566.9 307.7 L 566.4 308.1 L 565.9 308.4 L 565.4 308.3 L 564.9 308.9 L 564.4 309.0 L 563.9 309.4 L 563.4 309.6 L 562.9 309.6 L 562.4 310.0 L 561.9 310.4 L 561.4 310.4 L 560.9 311.2 L 560.4 311.1 L 559.9 311.7 L 559.4 312.0 L 558.9 311.8 L 558.4 312.4 L 557.9 312.5 L 557.4 313.0 L 556.9 313.3 L 556.4 313.6 L 555.9 313.9 L 555.4 313.8 L 554.9 314.4 L 554.4 314.8 L 553.9 314.8 L 553.4 315.5 L 552.9 315.7 L 552.4 315.9 L 551.9 315.8 L 551.4 316.6 L 550.9 316.9 L 550.4 317.1 L 549.9 317.3 L 549.4 317.3 L 548.9 317.7 L 548.4 317.9 L 547.9 318.4 L 547.4 318.6 L 546.9 319.2 L 546.4 319.1 L 545.9 319.5 L 545.4 319.6 L 544.9 319.9 L 544.4 320.7 L 543.9 320.9 L 543.4 320.8 L 542.9 321.0 L 542.4 321.6 L 541.9 322.0 L 541.4 322.3 L 540.9 322.2 L 540.4 322.8 L 539.9 322.7 L 539.4 323.1 L 538.9 323.7 L 538.4 324.0 L 537.9 324.2 L 537.4 324.2 L 536.9 324.7 L 536.4 324.8 L 535.9 325.3 L 535.4 325.4 L 534.9 325.7 L 534.4 326.3 L 533.9 326.2 L 533.4 326.9 L 532.9 327.0 L 532.4 327.2 L 531.9 327.7 L 531.4 328.0 L 530.9 327.9 L 530.4 328.3 L 529.9 328.8 L 529.4 329.3 L 528.9 329.3 L 528.4 329.3 L 527.9 329.9 L 527.4 329.9 L 526.9 330.4 L 526.4 330.7 L 525.9 330.8 L 525.4 331.6 L 524.9 331.8 L 524.4 331.9 L 523.9 332.0 L 523.4 332.3 L 522.9 332.9 L 522.4 333.4 L 521.9 333.5 L 521.4 333.8 L 520.9 333.9 L 520.4 334.6 L 519.9 334.5 L 519.4 335.0 L 518.9 335.1 L 518.4 335.4 L 517.9 335.9 L 517.4 336.0 L 516.9 336.6 L 516.4 336.7 L 515.9 336.7 L 515.4 337.3 L 514.9 337.8 L 514.4 337.8 L 513.9 338.4 L 513.4 338.4 L 512.9 338.8 L 512.4 339.2 L 511.9 339.4 L 511.4 339.7 L 510.9 339.9 L 510.4 340.4 L 509.9 340.2 L 509.4 341.0 L 508.9 341.2 L 508.4 341.2 L 507.9 341.6 L 507.4 341.8 L 506.9 342.3 L 506.4 342.8 L 505.9 343.0 L 505.4 343.6 L 504.9 344.1 L 504.4 344.7 L 503.9 344.8 L 503.4 345.3 L 502.9 345.5 L 502.4 345.8 L 501.9 346.4 L 501.4 346.3 L 500.9 346.2 L 500.4 346.6 L 499.9 346.9 L 499.4 347.0 L 498.9 347.1 L 498.4 347.4 L 497.9 347.8 L 497.4 348.3 L 496.9 348.0 L 496.4 348.4 L 495.9 349.0 L 495.4 349.1 L 494.9 349.0 L 494.4 349.5 L 493.9 350.0 L 493.4 349.9 L 492.9 350.7 L 492.4 351.0 L 491.9 351.4 L 491.4 351.1 L 490.9 351.8 L 490.4 352.3 L 489.9 352.7 L 489.4 352.9 L 488.9 353.1 L 488.4 353.2 L 487.9 354.0 L 487.4 354.0 L 486.9 353.9 L 486.4 354.6 L 485.9 354.8 L 485.4 355.4 L 484.9 355.4 L 484.4 355.5 L 483.9 355.6 L 483.4 355.8 L 482.9 356.7 L 482.4 356.9 L 481.9 357.1 L 481.4 357.0 L 480.9 357.6 L 480.4 357.6 L 479.9 358.6 L 479.4 358.9 L 478.9 358.7 L 478.4 359.2 L 477.9 359.5 L 477.4 359.9 L 476.9 360.4 L 476.4 360.8 L 475.9 360.7 L 475.4 361.3 L 474.9 361.7 L 474.4 362.2 L 473.9 362.7 L 473.4 362.5 L 472.9 363.4 L 472.4 363.3 L 471.9 364.0 L 471.4 363.7 L 470.9 364.5 L 470.4 364.6 L 469.9 364.9 L 469.4 365.8 L 468.9 366.2 L 468.4 366.6 L 467.9 367.1 L 467.4 368.2 L 466.9 368.0 L 466.4 368.9 L 465.9 369.4 L 465.4 369.8 L 464.9 370.0 L 464.4 370.8 L 463.9 371.0 L 463.4 371.9 L 462.9 372.1 L 462.4 372.8 L 461.9 373.4 L 461.4 374.3 L 460.9 374.9 L 460.4 374.9 L 459.9 375.5 L 459.4 375.8 L 458.9 375.9 L 458.4 377.1 L 457.9 377.4 L 457.4 377.5 L 456.9 377.8 L 456.4 379.0 L 455.9 378.7 L 455.4 379.7 L 454.9 379.4 L 454.4 382.5 L 453.9 379.9 L 453.4 381.2 L 452.9 381.2 L 452.4 381.7 L 451.9 381.7 L 451.4 382.7 L 450.9 381.9 L 450.4 382.4 L 449.9 382.6 L 449.4 383.6 L 448.9 383.4 L 448.4 383.1 L 447.9 384.6 L 447.4 383.7 L 446.9 384.6 L 446.4 384.2 L 445.9 385.1 L 445.4 384.2 L 444.9 385.6 L 444.4 384.9 L 443.9 385.0 L 443.4 386.0 L 442.9 386.2 L 442.4 386.3 L 441.9 385.8 L 441.4 386.3 L 440.9 385.7 L 440.4 386.1 L 439.9 387.0 L 439.4 386.4 L 438.9 386.9 L 438.4 387.7 L 437.9 387.0 L 437.4 387.9 L 436.9 387.6 L 436.4 387.8 L 435.9 389.1 L 435.4 390.3 L 434.9 389.5 L 434.4 389.7 L 433.9 389.2 L 433.4 388.9 L 432.9 390.2 L 432.4 391.0 L 431.9 390.9 L 431.4 391.0 L 430.9 391.4 L 430.4 392.1 L 429.9 393.6 L 429.4 393.3 L 428.9 394.0 L 428.4 393.3 L 427.9 393.7 L 427.4 393.8 L 426.9 395.2 L 426.4 397.3 L 425.9 396.0 L 425.4 396.5 L 424.9 396.3 L 424.4 396.1 L 423.9 396.4 L 423.4 398.0 L 422.9 399.1 L 422.4 398.1 L 421.9 398.4 L 421.4 400.7 L 420.9 400.5 L 420.4 401.6 L 419.9 401.3 L 419.4 403.6 L 418.9 400.9 L 418.4 400.4 L 417.9 402.0 L 417.4 401.7 L 416.9 402.0 L 416.4 401.2 L 415.9 402.3 L 415.4 401.9 L 414.9 401.8 L 414.4 401.7 L 413.9 402.2 L 413.4 402.2 L 412.9 402.1 L 412.4 402.6 L 411.9 401.0 L 411.4 402.3 L 410.9 402.1 L 410.4 402.7 Z" fill="#4282B6" stroke="none"/>
<line x1="410.4" y1="396.85" x2="682.4" y2="239.50" stroke="#000" stroke-width="2.3" stroke-dasharray="7.6 3.28" stroke-dashoffset="9.28"/>
<rect x="410.5" y="226.5" width="272.0" height="185.0" fill="none" stroke="#444444" stroke-width="1.15"/>
<line x1="407.8" y1="235.5" x2="410.5" y2="235.5" stroke="#444444" stroke-width="1"/>
<line x1="407.8" y1="318.8" x2="410.5" y2="318.8" stroke="#444444" stroke-width="1"/>
<line x1="407.8" y1="402.4" x2="410.5" y2="402.4" stroke="#444444" stroke-width="1"/>
<line x1="466.4" y1="411.5" x2="466.4" y2="414.7" stroke="#444444" stroke-width="1"/>
<line x1="546.5" y1="411.5" x2="546.5" y2="414.7" stroke="#444444" stroke-width="1"/>
<line x1="626.5" y1="411.5" x2="626.5" y2="414.7" stroke="#444444" stroke-width="1"/>
<text x="449.8" y="431.1" font-family="Liberation Sans, sans-serif" font-size="16" fill="#111" text-anchor="start" textLength="32.8" lengthAdjust="spacingAndGlyphs" stroke="#111" stroke-width="0.3" >−50</text>
<text x="541.6" y="431.1" font-family="Liberation Sans, sans-serif" font-size="16" fill="#111" text-anchor="start" textLength="9.6" lengthAdjust="spacingAndGlyphs" stroke="#111" stroke-width="0.3" >0</text>
<text x="616.2" y="431.1" font-family="Liberation Sans, sans-serif" font-size="16" fill="#111" text-anchor="start" textLength="20.0" lengthAdjust="spacingAndGlyphs" stroke="#111" stroke-width="0.3" >50</text>
<text x="480.0" y="450.3" font-family="Liberation Sans, sans-serif" font-size="17" fill="#111" text-anchor="start" textLength="36.2" lengthAdjust="spacingAndGlyphs" stroke="#111" stroke-width="0.3" >DOA</text>
<text x="521.1" y="450.3" font-family="Liberation Sans, sans-serif" font-size="17" fill="#111" text-anchor="start" textLength="32.6" lengthAdjust="spacingAndGlyphs" stroke="#111" stroke-width="0.3" >true</text>
<text x="559.6" y="450.3" font-family="Liberation Sans, sans-serif" font-size="17" fill="#111" text-anchor="start" textLength="43.9" lengthAdjust="spacingAndGlyphs" stroke="#111" stroke-width="0.3" >value</text>
<circle cx="610.0" cy="439.9" r="1.75" fill="none" stroke="#111" stroke-width="0.95"/>
<rect x="416.6" y="233.2" width="117" height="42.8" rx="2.5" fill="#fff" fill-opacity="0.8" stroke="#cfcfcf" stroke-width="1"/>
<line x1="422" y1="243.6" x2="449" y2="243.6" stroke="#000" stroke-width="2.4" stroke-dasharray="7.6 3.4"/>
<rect x="422" y="259" width="27" height="9" fill="#4282B6"/>
<text x="459.1" y="249.6" font-family="Liberation Sans, sans-serif" font-size="14" fill="#111" text-anchor="start" textLength="61" lengthAdjust="spacingAndGlyphs" stroke="#111" stroke-width="0.3" >True DOA</text>
<text x="459.1" y="269.6" font-family="Liberation Sans, sans-serif" font-size="14" fill="#111" text-anchor="start" textLength="70.5" lengthAdjust="spacingAndGlyphs" stroke="#111" stroke-width="0.3" >CP interval</text>
</svg>
</body></html>
